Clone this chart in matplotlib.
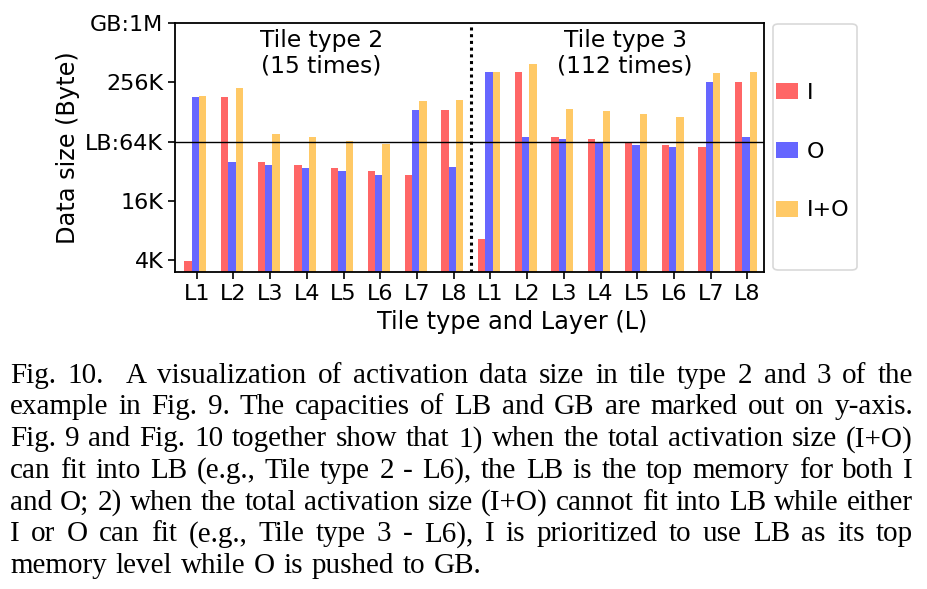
import numpy as np
import matplotlib
matplotlib.use("Agg")
import matplotlib.pyplot as plt
from matplotlib.patches import Patch, FancyBboxPatch

# ---------------- data (KB) ----------------
layers = ["L1", "L2", "L3", "L4", "L5", "L6", "L7", "L8"]
tick_labels = layers + layers
size_I = [3.9, 182, 39.7, 36.8, 34.3, 31.8, 29.0, 133,
          6.6, 324, 70.5, 67.6, 62.7, 59.3, 56.1, 260]
size_O = [182, 39.7, 36.8, 34.3, 31.8, 29.0, 133, 35.5,
          324, 70.5, 67.6, 62.7, 59.3, 56.1, 260, 70.5]
size_IO = [186, 224, 77, 71.5, 64.4, 60.6, 164, 170,
           330, 395, 138, 130, 122, 115, 316, 330]
ytick_vals = [4, 16, 64, 256, 1024]
ytick_labels = ["4K", "16K", "LB:64K", "256K", "GB:1M"]
series_names = ["I", "O", "I+O"]
colors = ["#FF6666", "#6666FF", "#FFC966"]
group_titles = ["Tile type 2\n(15 times)", "Tile type 3\n(112 times)"]

caption_lines = [
    "Fig. 10.  A visualization of activation data size in tile type 2 and 3 of the",
    "example in Fig. 9. The capacities of LB and GB are marked out on y-axis.",
    "Fig. 9 and Fig. 10 together show that 1) when the total activation size (I+O)",
    "can fit into LB (e.g., Tile type 2 - L6), the LB is the top memory for both I",
    "and O; 2) when the total activation size (I+O) cannot fit into LB while either",
    "I or O can fit (e.g., Tile type 3 - L6), I is prioritized to use LB as its top",
    "memory level while O is pushed to GB.",
]

W, H = 928, 589
fig = plt.figure(figsize=(W / 100, H / 100), dpi=100)
plt.rcParams['font.family'] = ['DejaVu Sans']

ax = fig.add_axes([175 / W, 1 - 271.7 / H, (764 - 175) / W, (271.7 - 23.3) / H])
x = np.arange(len(tick_labels))
bw = 0.2
offsets = [-0.24, -0.04, 0.16]
for vals, off, c, name in zip([size_I, size_O, size_IO], offsets, colors, series_names):
    ax.bar(x + off, vals, width=bw, color=c, label=name, zorder=2)

ax.set_yscale("log", base=2)
ax.set_ylim(2 ** 1.6, 1024)
ax.set_xlim(-0.59, 15.45)
ax.set_yticks(ytick_vals)
ax.set_yticklabels(ytick_labels)
ax.minorticks_off()
ax.set_xticks(x)
ax.set_xticklabels(tick_labels)
ax.tick_params(axis="both", labelsize=16, length=5, width=1.2, direction="out")
for s in ax.spines.values():
    s.set_linewidth(1.3)
ax.axhline(64, color="black", lw=1.0, zorder=3)
ax.axvline(7.46, color="black", lw=2.2, ls=(0, (1, 1.2)), zorder=3)
ax.set_ylabel("Data size (Byte)", fontsize=17.3, labelpad=4)
ax.set_xlabel("Tile type and Layer (L)", fontsize=17.3, labelpad=2)
ax.xaxis.set_label_coords((512 - 175) / (764 - 175), -0.155)
ax.text(3.4, 0.88, group_titles[0], transform=ax.get_xaxis_transform(),
        ha="center", va="center", fontsize=16.8, linespacing=1.15)
ax.text(11.67, 0.88, group_titles[1], transform=ax.get_xaxis_transform(),
        ha="center", va="center", fontsize=16.8, linespacing=1.15)

# legend box
box = FancyBboxPatch((773 / W, 1 - 270 / H), (857 - 773) / W, (270 - 24) / H,
                     boxstyle="round,pad=0,rounding_size=0.006",
                     transform=fig.transFigure, facecolor="white",
                     edgecolor="#d9d9d9", lw=1.2)
fig.add_artist(box)
handles = [Patch(facecolor=c) for c in colors]
fig.legend(handles, series_names, loc="center left",
           bbox_to_anchor=(775.7 / W, 1 - 151.5 / H), frameon=False,
           fontsize=16, handlelength=1.0, handleheight=0.75, handletextpad=0.4,
           labelspacing=1.75, borderpad=0, borderaxespad=0)

# justified caption
renderer = fig.canvas.get_renderer()
left_px, right_px = 10, 913
last_right_px = 482
base0, dy = 382.8, 31.7
cfont = dict(family="Liberation Serif", fontsize=21)
for i, line in enumerate(caption_lines):
    ybase = 1 - (base0 + i * dy) / H
    rp = last_right_px if i == len(caption_lines) - 1 else right_px
    words = line.split(" ")
    widths = []
    for w in words:
        if w == "":
            widths.append(0.0)
            continue
        t = fig.text(0, 0, w, **cfont)
        widths.append(t.get_window_extent(renderer).width)
        t.remove()
    gap = (rp - left_px - sum(widths)) / (len(words) - 1)
    xp = left_px
    for w, wd in zip(words, widths):
        if w:
            fig.text(xp / W, ybase, w, ha="left", va="baseline", **cfont)
        xp += wd + gap

fig.savefig("out.png", dpi=100)
